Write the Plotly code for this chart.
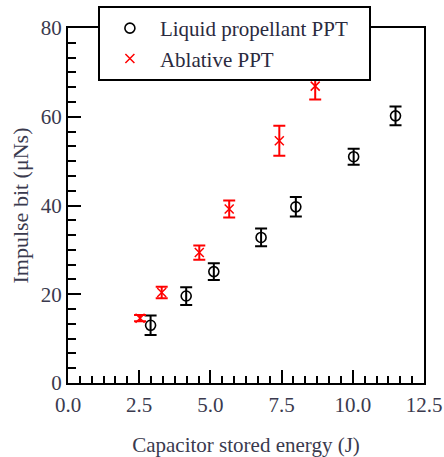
import plotly.graph_objects as go

# Liquid propellant PPT
liq_x = [2.9, 4.15, 5.12, 6.78, 8.0, 10.03, 11.5]
liq_y = [13.0, 19.6, 25.1, 32.8, 39.7, 51.0, 60.2]
liq_err = [2.2, 2.0, 1.9, 2.0, 2.2, 1.8, 2.1]

# Ablative PPT
abl_x = [2.53, 3.29, 4.61, 5.66, 7.42, 8.68]
abl_y = [14.6, 20.4, 29.4, 39.2, 54.6, 66.9]
abl_err = [0.7, 1.3, 1.6, 1.9, 3.4, 3.0]

x_ticks = [0.0, 2.5, 5.0, 7.5, 10.0, 12.5]
x_labels = ["0.0", "2.5", "5.0", "7.5", "10.0", "12.5"]
y_ticks = [0, 20, 40, 60, 80]

serif = "Liberation Serif, Times New Roman, serif"
label_col = "#3a3a4e"

fig = go.Figure()
fig.add_trace(go.Scatter(
    x=liq_x, y=liq_y, mode="markers", name="Liquid propellant PPT\u00a0\u00a0\u00a0",
    marker=dict(symbol="circle-open", size=10, color="black", line=dict(width=1.6)),
    error_y=dict(type="data", array=liq_err, color="black", thickness=2, width=6),
))
fig.add_trace(go.Scatter(
    x=abl_x, y=abl_y, mode="markers", name="Ablative PPT",
    marker=dict(symbol="x-thin-open", size=9, color="red", line=dict(width=1.5, color="red")),
    error_y=dict(type="data", array=abl_err, color="red", thickness=2, width=6),
))

fig.update_layout(
    width=444, height=457,
    margin=dict(l=68, r=20, t=28, b=74, autoexpand=False),
    paper_bgcolor="white", plot_bgcolor="white",
    font=dict(family=serif, size=21, color=label_col),
    showlegend=True,
    legend=dict(
        x=0.084, y=1.062, xanchor="left", yanchor="top",
        bgcolor="white", bordercolor="black", borderwidth=2,
        font=dict(family=serif, size=21, color="#2a2a3e"),
        itemwidth=50, tracegroupgap=0,
    ),
    xaxis=dict(
        range=[0, 12.5], tickvals=x_ticks, ticktext=x_labels,
        ticks="inside", ticklen=13, tickwidth=2, tickcolor="black",
        minor=dict(dtick=2.5/6, tick0=0, ticks="inside", ticklen=7, tickwidth=2, tickcolor="black"),
        showline=True, linecolor="black", linewidth=2, mirror=True,
        showgrid=False, zeroline=False, automargin=False,
        ticklabelstandoff=2,
        title=dict(text="Capacitor stored energy (J)", standoff=22, font=dict(size=21)),
    ),
    yaxis=dict(
        range=[0, 80], tickvals=y_ticks,
        ticks="inside", ticklen=13, tickwidth=2, tickcolor="black",
        minor=dict(dtick=20/6, tick0=0, ticks="inside", ticklen=8, tickwidth=2, tickcolor="black"),
        showline=True, linecolor="black", linewidth=2, mirror=True,
        showgrid=False, zeroline=False, automargin=False,
        ticklabelstandoff=0,
        title=dict(text="Impulse bit (μNs)", standoff=6, font=dict(size=22)),
    ),
)

fig.write_html("out.html", config={"displayModeBar": False},
               post_script="document.body.style.margin='0px';")
